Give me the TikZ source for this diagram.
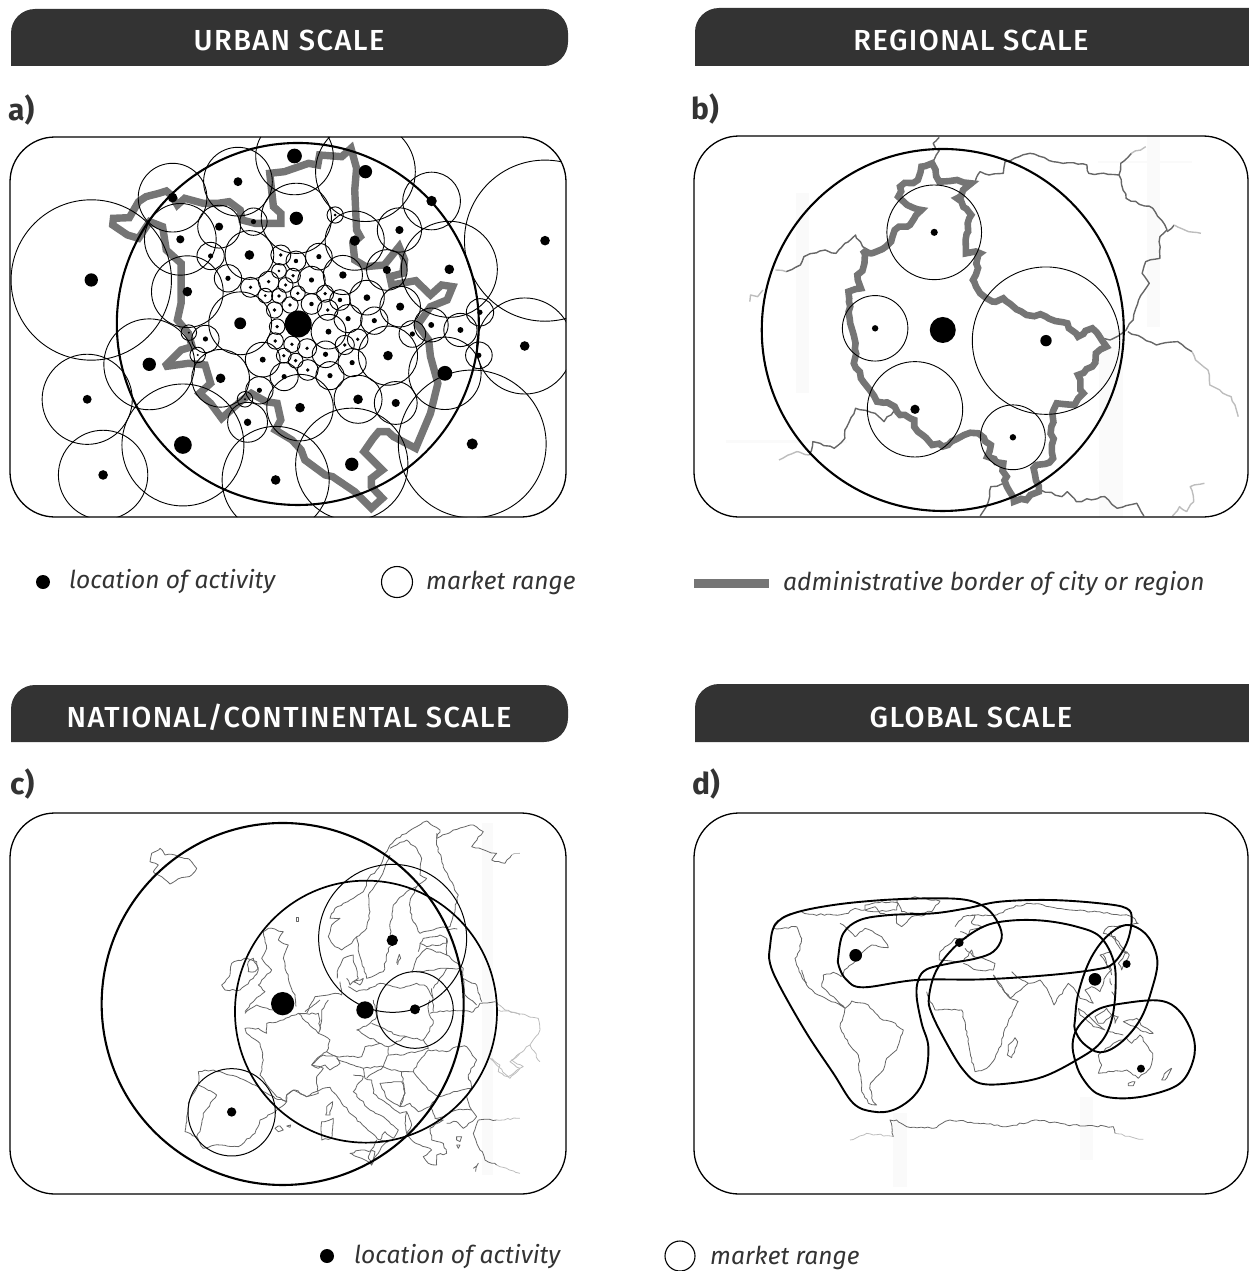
\documentclass[tikz,border=0pt]{standalone}
\usepackage{fontspec}
\setmainfont{Fira Sans}
\newfontfamily\hdfont[LetterSpace=5]{Fira Sans Medium}
\usetikzlibrary{decorations.pathmorphing}
\definecolor{hdr}{HTML}{333333}
\definecolor{bord}{HTML}{757575}
\definecolor{mapl}{HTML}{666666}
\definecolor{maplo}{HTML}{BDBDBD}
\definecolor{streak}{HTML}{FAFAFA}
\tikzset{
 hdrbox/.style={fill=hdr},
 hdrtext/.style={text=white,font=\hdfont\fontsize{29}{32}\selectfont,anchor=center},
 panellabel/.style={font=\bfseries\fontsize{30}{34}\selectfont,anchor=west,text=hdr},
 legtext/.style={font=\itshape\fontsize{24.6}{30}\selectfont,anchor=west,text=hdr},
 frame/.style={draw=black,line width=1.3pt},
 thin circle/.style={draw=black,line width=0.9pt},
 main circle/.style={draw=black,line width=2.1pt},
 bigborder/.style={draw=bord,line width=7.4pt,line join=miter,miter limit=3},
 jagborder/.style={draw=bord,line width=6.6pt,line join=miter,miter limit=3,decorate,decoration={random steps,segment length=6pt,amplitude=2.2pt}},
 regline/.style={draw=mapl,line width=1.4pt,line join=round,decorate,decoration={random steps,segment length=5pt,amplitude=1pt}},
 reglo/.style={draw=maplo,line width=1.4pt,line join=round,decorate,decoration={random steps,segment length=5pt,amplitude=1pt}},
 mapline/.style={draw=mapl,line width=0.8pt,line join=round,decorate,decoration={random steps,segment length=3.5pt,amplitude=0.9pt}},
 maplight/.style={draw=maplo,line width=0.8pt,line join=round,decorate,decoration={random steps,segment length=3.5pt,amplitude=0.9pt}},
 blob/.style={draw=black,line width=1.9pt},
}
\def\acircles{247/450/217/18,404/703/123/18,236/808/122/12,279/1035/121/13,495/945/165/24,746/1050/145/13,952/1003/152/18,1278/942/200/15,1420/648/130/13,1475/332/218/13,1216/418/130/13,1168/213/78/14,989/125/135/18,797/78/105/20,644/155/93/12,467/203/93/13,488/328/97/11,507/485/97/13,593/290/58/11,686/275/37/7,802/265/95/18,907/255/22/4,960/332/80/14,1081/300/60/11,570/378/37/7,675/375/66/13,760/375/27/5,863/380/36/7,801/393/27/6,928/435/53/10,1047/420/55/11,617/445/37/7,678/472/27/5,727/455/28/5,755/423/20/4,793/437/20/5,843/450/37/7,773/465/20/5,718/497/20/4,755/498/20/5,806/490/20/5,880/491/23/5,920/510/28/6,993/503/47/9,1083/530/55/11,785/525/22/5,843/522/28/6,743/540/22/5,887/540/28/5,942/566/38/7,1013/572/37/7,650/580/85/16,750/590/21/5,889/605/47/8,968/628/28/5,933/645/26/5,745/633/22/5,790/643/22/5,831/655/26/5,881/673/36/7,953/698/38/7,1050/677/80/13,711/689/47/8,768/677/20/5,800/692/20/5,833/720/28/5,769/740/38/7,893/737/38/7,597/745/78/13,702/781/37/7,812/833/90/13,969/808/65/13,1071/819/58/11,1204/730/98/20,1296/676/36/7,1299/547/37/7,1246/600/45/8,1167/585/46/8,1116/612/36/7,670/877/54/10,663/808/21/3,535/675/21/3,511/608/21/3,556/627/37/7}
\begin{document}
\begin{tikzpicture}[x=1pt,y=-1pt]
\useasboundingbox (0,0) rectangle (1248,1271);
\pgfmathsetseed{7}
% headers
\fill[hdrbox] (11,66) {[rounded corners=24pt] -- (11,9) -- (568,9) -- (568,66)} -- cycle;
\fill[hdrbox] (695,66) {[rounded corners=24pt] -- (695,8) -- (1310,8) -- (1310,66)} -- cycle;
\fill[hdrbox] (11,742) {[rounded corners=24pt] -- (11,685) -- (568,685) -- (568,742)} -- cycle;
\fill[hdrbox] (695,742) {[rounded corners=24pt] -- (695,684) -- (1310,684) -- (1310,742)} -- cycle;
\node[hdrtext] (ha) at (289,40) {URBAN SCALE};
\node[hdrtext] (hb) at (971,40) {REGIONAL SCALE};
\node[hdrtext] (hc) at (289,717) {NATIONAL/CONTINENTAL SCALE};
\node[hdrtext] (hd) at (971,717) {GLOBAL SCALE};
\node[panellabel,inner sep=0pt] (la) at (8,110) {a)};
\node[panellabel,inner sep=0pt] (lb) at (691,109) {b)};
\node[panellabel,inner sep=0pt] (lc) at (10,784) {c)};
\node[panellabel,inner sep=0pt] (ld) at (692,784) {d)};
% ---------- panel a
\begin{scope}
\clip[rounded corners=45pt] (10,137) rectangle (566,517);
\begin{scope}[x=0.3695pt,y=-0.3333pt,shift={(0pt,-130pt)}]
\draw[bigborder] (307,265) -- (350,263) -- (375,215) -- (395,200) -- (430,190) -- (450,183) -- (465,197) -- (480,225) -- (500,205) -- (550,220) -- (590,220) -- (620,215) -- (650,240) -- (655,270) -- (690,280) -- (760,280) -- (760,250) -- (740,230) -- (730,130) -- (770,125) -- (835,100) -- (860,105) -- (865,75) -- (925,80) -- (950,55) -- (965,115) -- (960,180) -- (965,300) -- (975,320) -- (955,340) -- (960,390) -- (990,410) -- (1040,405) -- (1080,350) -- (1095,390) -- (1090,430) -- (1055,440) -- (1060,465) -- (1125,452) -- (1165,495) -- (1195,465) -- (1225,470) -- (1210,510) -- (1165,530) -- (1130,585) -- (1160,630) -- (1165,680) -- (1185,760) -- (1165,850) -- (1125,955) -- (1065,920) -- (1050,905) -- (1025,905) -- (1010,925) -- (985,965) -- (1035,1020) -- (1005,1045) -- (1005,1070) -- (1035,1105) -- (1005,1135) -- (960,1085) -- (900,1040) -- (880,1035) -- (825,990) -- (815,960) -- (790,930) -- (745,900) -- (760,870) -- (750,820) -- (720,815) -- (680,790) -- (650,815) -- (600,865) -- (570,820) -- (540,790) -- (570,760) -- (555,705) -- (510,700) -- (445,710) -- (490,660) -- (520,650) -- (510,610) -- (480,570) -- (490,520) -- (490,400) -- (450,360) -- (440,290) -- (405,275) -- (375,325) -- (345,315) -- (305,285) -- cycle;
\foreach \x/\y/\r/\d in \acircles {\draw[thin circle] (\x,\y) circle[radius=\r*0.3695pt];}
\foreach \x/\y/\r/\d in \acircles {\fill (\x,\y) circle[radius=\d*0.3695pt];}
\fill (807,582) circle[radius=13.5pt];
\draw[main circle] (806,582) circle[radius=181pt];
\end{scope}
\end{scope}
\draw[frame,rounded corners=45pt] (10,137) rectangle (566,517);
% legend top
\fill (43,582) circle[radius=7pt];
\node[legtext,inner sep=0pt] (t1) at (69,582) {location of activity};
\draw[thin circle,line width=1.1pt] (397,582) circle[radius=15.5pt];
\node[legtext,inner sep=0pt] (t2) at (426,583) {market range};
\draw[draw=bord,line width=9pt] (694,583) -- (769,583);
\node[legtext,inner sep=0pt] (t3) at (783,584) {administrative border of city or region};
% ---------- panel b
\begin{scope}
\clip[rounded corners=45pt] (694,136) rectangle (1248,517);
\begin{scope}[x=0.356pt,y=-0.3333pt,shift={(690pt,-130pt)}]
\fill[streak] (298,190) rectangle (335,790);
\fill[streak] (1285,0) rectangle (1320,590);
\fill[streak] (1145,92) rectangle (1410,100);
\fill[streak] (100,930) rectangle (440,940);
\fill[streak] (1150,600) rectangle (1215,1200);
\draw[regline] (700,22) -- (683,40) -- (690,55) -- (700,62) -- (680,100);
\draw[regline] (800,160) -- (815,125) -- (840,135) -- (880,130) -- (885,95) -- (955,70) -- (1020,95) -- (1115,105) -- (1120,130) -- (1205,135) -- (1225,205) -- (1300,235) -- (1340,300) -- (1320,320) -- (1320,385) -- (1280,395) -- (1270,430) -- (1290,460) -- (1260,510) -- (1245,570) -- (1225,600) -- (1180,630) -- (1160,625);
\draw[regline] (1205,135) -- (1210,100) -- (1240,70);
\draw[reglo] (1240,70) -- (1280,50);
\draw[regline] (1340,305) -- (1360,285);
\draw[reglo] (1360,285) -- (1400,305) -- (1435,310);
\draw[regline] (1230,605) -- (1310,645) -- (1370,635) -- (1410,665);
\draw[reglo] (1410,665) -- (1420,690) -- (1455,720) -- (1460,765) -- (1520,800) -- (1540,860);
\draw[regline] (550,350) -- (510,365) -- (485,350) -- (465,315) -- (435,340) -- (410,370) -- (380,360) -- (320,380) -- (310,405) -- (270,425);
\draw[reglo] (270,425) -- (240,420);
\draw[reglo] (205,480) -- (190,500) -- (170,495) -- (168,515);
\draw[regline] (575,840) -- (545,875) -- (520,850) -- (465,835) -- (435,900) -- (435,925) -- (405,955) -- (345,935) -- (335,975);
\draw[reglo] (335,975) -- (300,965) -- (250,990);
\draw[regline] (890,1060) -- (845,1070) -- (838,1115) -- (815,1158);
\draw[regline] (985,1080) -- (1045,1100) -- (1060,1085) -- (1085,1115) -- (1165,1100) -- (1200,1135) -- (1255,1120) -- (1275,1158);
\draw[reglo] (1445,1060) -- (1405,1070) -- (1415,1115) -- (1395,1145) -- (1375,1130) -- (1355,1158);
\draw[jagborder] (680,100) -- (650,110) -- (640,150) -- (590,170) -- (585,200) -- (610,225) -- (650,240) -- (630,265) -- (610,290) -- (575,300) -- (565,335) -- (550,350) -- (510,370) -- (485,360) -- (490,400) -- (470,435) -- (480,475) -- (445,485) -- (450,530) -- (450,580) -- (465,640) -- (460,700) -- (480,745) -- (505,780) -- (525,815) -- (575,830) -- (590,855) -- (630,870) -- (640,905) -- (680,945) -- (725,945) -- (770,915) -- (810,910) -- (845,945) -- (835,980) -- (880,1000) -- (890,1070) -- (910,1115) -- (945,1110) -- (980,1085) -- (965,1015) -- (1020,985) -- (1015,890) -- (1030,820) -- (1080,825) -- (1105,790) -- (1090,735) -- (1130,710) -- (1140,670) -- (1170,650) -- (1130,595) -- (1090,620) -- (1060,580) -- (1000,560) -- (945,555) -- (880,505) -- (850,515) -- (815,490) -- (795,450) -- (815,370) -- (775,370) -- (780,280) -- (790,255) -- (750,205) -- (790,160) -- (750,150) -- (700,155) -- cycle;
\foreach \x/\y/\r/\d in {686/307/133/10,1000/632/207/16,520/595/92/9,632/838/134/13,907/922/91/9} {
  \draw[thin circle] (\x,\y) circle[radius=\r*0.356pt];
  \fill (\x,\y) circle[radius=\d*0.356pt];}
\fill (710,600) circle[radius=13pt];
\draw[main circle] (710,600) circle[radius=181pt];
\end{scope}
\end{scope}
\draw[frame,rounded corners=45pt] (694,136) rectangle (1248,517);
% ---------- panel c
\begin{scope}
\clip[rounded corners=45pt] (10,813) rectangle (566,1194);
\begin{scope}[x=0.3333pt,y=-0.3333pt,shift={(90pt,-810pt)}]
\fill[streak] (1175,40) rectangle (1210,1095);
\draw[mapline] (185,130) -- (210,115) -- (225,135) -- (255,135) -- (300,150) -- (320,175) -- (305,195) -- (260,210) -- (240,222) -- (205,195) -- (190,185) -- (205,165) -- (180,155) -- cycle;
\draw[maplight] (1225,600) -- (1280,610) -- (1345,625) -- (1350,660) -- (1320,705) -- (1265,750) -- (1300,770) -- (1255,800) -- (1225,770) -- (1200,745);
\draw[maplight] (1320,705) -- (1350,755);
\end{scope}
% north Europe
\begin{scope}[x=0.3333pt,y=-0.3333pt,shift={(220pt,-815pt)}]
\draw[mapline] (650,70) -- (660,45) -- (620,18) -- (590,35) -- (565,50) -- (530,70) -- (510,90) -- (490,130) -- (470,165) -- (445,190) -- (430,230) -- (400,250) -- (370,265) -- (345,280) -- (330,310) -- (360,310) -- (335,330) -- (325,365) -- (345,395) -- (365,405) -- (395,385) -- (410,365) -- (415,395) -- (425,440) -- (440,490) -- (490,470) -- (505,400) -- (515,390) -- (510,340) -- (520,270) -- (560,230) -- (590,215) -- (620,190) -- (600,180) -- (605,130) -- (590,100) -- (560,75) -- (530,90) -- (510,100);
\draw[mapline] (590,215) -- (570,260) -- (575,310) -- (600,355) -- (650,340) -- (690,335) -- (700,300) -- (715,240) -- (690,195) -- (670,150) -- (650,90) -- (650,55);
\draw[mapline] (510,120) -- (480,190) -- (445,240) -- (450,290) -- (440,340) -- (410,365);
\draw[mapline] (650,70) -- (700,45) -- (760,30) -- (790,50) -- (755,95) -- (805,110);
\draw[mapline] (805,110) -- (830,115) -- (815,135) -- (855,145) -- (875,120);
\draw[maplight] (875,120) -- (900,115);
\draw[mapline] (600,385) -- (610,370) -- (660,360) -- (680,370) -- (680,385) -- (620,395) -- (600,385) -- (595,410);
\draw[mapline] (680,345) -- (712,342);
\draw[mapline] (680,370) -- (680,420) -- (730,460) -- (725,490) -- (770,510) -- (785,560);
\draw[mapline] (575,470) -- (590,430) -- (620,400) -- (680,420);
\draw[mapline] (575,470) -- (610,470) -- (680,460) -- (720,460);
\draw[mapline] (445,520) -- (480,505) -- (540,520) -- (590,505) -- (620,515) -- (640,550);
\draw[mapline] (635,520) -- (640,590);
\draw[mapline] (640,520) -- (680,460);
\draw[mapline] (730,490) -- (735,540) -- (770,570);
\draw[mapline] (352,490) -- (355,460) -- (370,430) -- (400,420) -- (405,450) -- (415,490) -- (390,510) -- (380,490);
\draw[mapline] (400,500) -- (430,490) -- (420,510) -- cycle;
\draw[mapline] (360,500) -- (365,540) -- (345,535) -- (285,545) -- (260,595);
\draw[mapline] (385,515) -- (410,530) -- (440,525) -- (450,520);
\draw[mapline] (530,445) -- (538,418) -- (542,430) -- (535,445) -- cycle;
\draw[mapline] (229,306) -- (236,306) -- (236,318) -- (229,318) -- cycle;
\draw[mapline] (130,350) -- (145,340) -- (190,350) -- (175,375) -- (205,390) -- (190,430) -- (205,490) -- (225,545) -- (228,575);
\draw[mapline] (130,350) -- (140,400) -- (125,430) -- (155,465) -- (115,510) -- (135,530) -- (100,560) -- (75,590);
\draw[mapline] (5,510) -- (30,480) -- (35,445) -- (80,430) -- (110,440) -- (115,465) -- (100,490) -- (60,525) -- (15,525) -- cycle;
\draw[mapline] (85,440) -- (100,430) -- (115,460) -- (105,470) -- (85,470) -- cycle;
\end{scope}
% south Europe
\begin{scope}[x=0.3333pt,y=-0.3333pt,shift={(180pt,-1000pt)}]
\draw[mapline] (195,40) -- (230,15) -- (280,30);
\draw[mapline] (195,85) -- (200,100) -- (240,130) -- (250,180) -- (240,225) -- (290,290) -- (320,305) -- (320,285) -- (340,270) -- (380,290) -- (415,280) -- (410,230) -- (430,205) -- (395,195) -- (425,165) -- (440,155) -- (450,120) -- (415,100) -- (355,40) -- (310,60) -- (260,70) -- (260,100) -- (235,85) -- cycle;
\draw[mapline] (355,40) -- (415,40) -- (420,90) -- (415,100);
\draw[mapline] (375,35) -- (420,0);
\draw[mapline] (420,90) -- (425,30) -- (445,0);
\draw[mapline] (440,155) -- (470,170) -- (510,170) -- (545,170) -- (555,140) -- (600,130) -- (530,90) -- (570,70) -- (590,50) -- (580,0);
\draw[mapline] (395,195) -- (430,165) -- (470,170) -- (480,190) -- (450,210) -- (435,195) -- (415,205) -- cycle;
\draw[mapline] (470,175) -- (490,185) -- (550,205) -- (610,200) -- (625,165) -- (625,140) -- (600,130);
\draw[mapline] (575,70) -- (650,105) -- (680,110) -- (625,140);
\draw[mapline] (680,110) -- (730,120) -- (745,145) -- (670,165) -- (625,165);
\draw[mapline] (730,120) -- (760,70) -- (745,30) -- (750,0);
\draw[mapline] (745,150) -- (720,180) -- (700,215) -- (665,215) -- (620,205) -- (610,200);
\draw[mapline] (745,150) -- (800,155) -- (830,140) -- (860,140) -- (890,180) -- (865,225) -- (875,265) -- (820,275) -- (780,290) -- (745,270) -- (700,215);
\draw[mapline] (750,40) -- (800,32) -- (880,35) -- (900,10) -- (945,5);
\draw[maplight] (945,5) -- (975,30) -- (1020,45);
\draw[mapline] (780,285) -- (750,320) -- (765,355) -- (790,350) -- (830,330) -- (875,330) -- (860,290) -- (875,265);
\draw[mapline] (875,330) -- (890,350) -- (850,385) -- (830,365) -- (800,370);
\draw[mapline] (895,360) -- (950,360);
\draw[maplight] (950,360) -- (1020,355);
\draw[mapline] (895,360) -- (880,400) -- (915,480) -- (950,495);
\draw[maplight] (950,495) -- (1020,520);
\draw[mapline] (680,400) -- (700,425) -- (750,445) -- (755,450) -- (730,470) -- (745,490) -- (770,495) -- (770,465) -- (800,460) -- (790,430) -- (755,420) -- (750,385) -- (790,360) -- (765,355);
\draw[mapline] (680,335) -- (695,375) -- (680,400) -- (675,370) -- cycle;
\draw[mapline] (665,215) -- (675,280) -- (660,320) -- (690,310) -- (715,335) -- (750,320);
\draw[mapline] (600,250) -- (665,245) -- (675,280) -- (660,320) -- (620,295) -- cycle;
\draw[mapline] (550,205) -- (555,235) -- (575,240) -- (580,280) -- (620,310) -- (660,340) -- (680,335);
\draw[mapline] (610,200) -- (560,235);
\draw[mapline] (320,305) -- (320,285) -- (345,270) -- (380,290) -- (420,270) -- (450,262) -- (480,300) -- (510,340) -- (570,395) -- (600,420) -- (625,425) -- (605,440) -- (590,465) -- (575,495) -- (565,470) -- (590,420);
\draw[mapline] (520,225) -- (550,230) -- (520,275) -- (570,330) -- (610,350) -- (655,390) -- (640,415) -- (615,395) -- (600,420);
\draw[mapline] (510,460) -- (545,450) -- (585,455) -- (575,495) -- (545,475) -- cycle;
\draw[mapline] (425,365) -- (460,355) -- (455,415) -- (425,420) -- cycle;
\draw[mapline] (440,320) -- (458,305) -- (450,345) -- (437,345) -- cycle;
\draw[mapline] (55,215) -- (100,210) -- (180,235) -- (225,255) -- (285,295) -- (320,305) -- (285,335) -- (240,360) -- (225,400) -- (175,440) -- (105,435) -- (70,445) -- (50,410) -- (15,395) -- (20,350) -- (25,310) -- (55,250) -- cycle;
\draw[mapline] (55,255) -- (110,285) -- (70,340) -- (60,395) -- (50,410);
\draw[mapline] (285,385) -- (300,378) -- (310,390) -- (295,395) -- cycle;
\draw[mapline] (320,378) -- (332,375) -- (330,382) -- cycle;
\draw[mapline] (830,410) -- (845,410) -- (840,425) -- (830,420) -- cycle;
\draw[mapline] (830,435) -- (840,435) -- (835,445) -- cycle;
\draw[mapline] (880,505) -- (895,490) -- (890,505) -- cycle;
\draw[maplight] (935,175) -- (960,195) -- (955,215) -- (990,235) -- (1020,205) -- (990,185) -- (1020,160);
\end{scope}
\begin{scope}[x=0.3333pt,y=-0.3333pt,shift={(90pt,-810pt)}]
\draw[main circle] (578,582) circle[radius=181pt];
\draw[main circle,line width=1.7pt] (828,605) circle[radius=131pt];
\foreach \x/\y/\r in {908/385/222,975/600/115,425/907/131} {\draw[thin circle,line width=1pt] (\x,\y) circle[radius=\r*0.3333pt];}
\foreach \x/\y/\d in {578/581/35,825/600/26,907/391/17,975/598/15,425/906/14} {\fill (\x,\y) circle[radius=\d*0.3333pt];}
\end{scope}
\end{scope}
\draw[frame,rounded corners=45pt] (10,813) rectangle (566,1194);
% ---------- panel d
\begin{scope}
\clip[rounded corners=45pt] (694,813) rectangle (1248,1194);
\begin{scope}[x=0.3333pt,y=-0.3333pt,shift={(750pt,-880pt)}]
\fill[streak] (430,700) rectangle (470,920);
\fill[streak] (990,650) rectangle (1030,840);
\draw[maplight] (300,780) -- (350,760) -- (430,770);
\draw[mapline] (430,770) -- (420,720) -- (440,720) -- (470,740) -- (550,745) -- (600,720) -- (700,730) -- (770,740) -- (860,720) -- (950,735) -- (1090,740) -- (1095,760);
\draw[maplight] (1095,760) -- (1180,778);
\end{scope}
% Americas
\begin{scope}[x=0.3333pt,y=-0.3333pt,shift={(765pt,-895pt)}]
\draw[mapline] (25,100) -- (60,98) -- (95,95) -- (110,130) -- (105,165) -- (90,190) -- (110,245) -- (125,270) -- (150,295) -- (190,315) -- (225,330) -- (240,340) -- (215,315) -- (195,300) -- (170,275) -- (175,240) -- (205,232) -- (228,245) -- (238,225) -- (265,205) -- (300,165) -- (320,150) -- (370,158) -- (350,125) -- (330,115) -- (300,100) -- (270,125) -- (250,105) -- (225,85);
\draw[mapline] (25,95) -- (30,85) -- (55,65) -- (100,50) -- (135,58) -- (205,60) -- (250,55) -- (270,40) -- (300,45) -- (330,35) -- (345,55) -- (395,60) -- (395,85) -- (410,95) -- (440,65) -- (480,60);
\draw[mapline] (300,30) -- (350,20) -- (400,25) -- (395,45) -- (340,50) -- (300,45) -- cycle;
\draw[mapline] (395,15) -- (450,5) -- (525,18) -- (500,50) -- (450,55) -- (410,50) -- cycle;
\draw[mapline] (110,225) -- (125,265);
\draw[mapline] (240,340) -- (260,318) -- (310,330) -- (345,370) -- (380,380) -- (415,405) -- (395,465) -- (365,490) -- (355,525) -- (315,570) -- (320,610) -- (335,630) -- (310,625) -- (290,590) -- (280,480) -- (250,445) -- (225,395) -- cycle;
\end{scope}
% Old world
\begin{scope}[x=0.3333pt,y=-0.3333pt,shift={(930pt,-895pt)}]
\draw[mapline] (75,95) -- (100,65) -- (135,60) -- (125,85) -- (155,95) -- (120,105) -- (115,120) -- (90,110);
\draw[mapline] (28,195) -- (30,170) -- (55,150) -- (75,130) -- (110,130);
\draw[mapline] (125,60) -- (200,60) -- (240,40) -- (290,25) -- (340,30) -- (420,45) -- (500,50) -- (580,60) -- (605,65) -- (625,85) -- (590,90) -- (535,95) -- (520,115) -- (555,125) -- (590,175) -- (570,160) -- (540,110);
\draw[mapline] (520,180) -- (545,240);
\draw[mapline] (28,195) -- (100,200) -- (125,165) -- (130,185) -- (160,190) -- (195,205) -- (190,225) -- (140,225) -- (100,205);
\draw[mapline] (105,160) -- (135,185);
\draw[mapline] (-10,290) -- (0,320) -- (15,345) -- (65,345) -- (95,345) -- (105,380) -- (120,470) -- (135,530) -- (170,520) -- (195,490) -- (215,445) -- (225,400) -- (265,320) -- (235,305) -- (190,240);
\draw[mapline] (190,240) -- (240,310) -- (295,265) -- (260,245) -- (245,230);
\draw[mapline] (295,265) -- (330,255) -- (355,290) -- (372,330) -- (415,265) -- (435,285) -- (450,310) -- (490,325) -- (465,285) -- (485,275) -- (510,290) -- (530,240) -- (545,225) -- (510,180) -- (545,170);
\draw[mapline] (565,205) -- (590,170) -- (598,180) -- (575,225) -- cycle;
\draw[mapline] (540,250) -- (545,270);
\draw[mapline] (545,290) -- (555,310);
\draw[mapline] (445,340) -- (525,405) -- (490,395) -- (450,360) -- cycle;
\draw[mapline] (495,365) -- (530,340) -- (545,360) -- (520,385) -- (505,385) -- cycle;
\draw[mapline] (550,360) -- (565,365) -- (555,385) -- cycle;
\draw[mapline] (580,380) -- (620,370) -- (640,395) -- (670,415) -- (640,410) -- (590,385) -- cycle;
\draw[mapline] (535,410) -- (580,420);
\draw[mapline] (505,480) -- (550,445) -- (590,430) -- (605,445) -- (630,420) -- (668,475) -- (660,520) -- (625,550) -- (590,525) -- (505,535) -- (515,510) -- cycle;
\draw[mapline] (595,565) -- (615,560) -- (610,572) -- (595,572) -- cycle;
\draw[mapline] (695,555) -- (710,530) -- (725,520) -- (720,530) -- (705,555) -- cycle;
\draw[mapline] (255,428) -- (263,440) -- (245,488) -- (232,480) -- (235,450) -- cycle;
\end{scope}
\begin{scope}[x=0.3333pt,y=-0.3333pt,shift={(750pt,-880pt)}]
\draw[blob] plot[smooth cycle,tension=0.6] coordinates {(60,200) (75,135) (130,100) (250,75) (400,60) (550,55) (650,60) (710,85) (745,130) (755,175) (730,215) (680,235) (600,250) (530,268) (505,300) (500,350) (515,430) (535,500) (525,590) (490,650) (430,690) (370,695) (310,670) (250,580) (170,460) (90,320) (60,250)};
\draw[blob] plot[smooth cycle,tension=0.6] coordinates {(265,230) (280,160) (330,120) (420,105) (550,100) (650,85) (750,65) (900,60) (1050,70) (1130,85) (1145,120) (1130,190) (1090,250) (1040,268) (900,285) (700,298) (500,300) (340,322) (290,300) (267,260)};
\draw[blob] plot[smooth cycle,tension=0.6] coordinates {(537,350) (560,270) (620,195) (700,140) (780,122) (880,122) (980,140) (1050,170) (1090,240) (1097,320) (1085,420) (1050,490) (980,540) (880,590) (780,610) (690,610) (640,570) (590,490) (545,400)};
\draw[blob] plot[smooth cycle,tension=0.6] coordinates {(975,420) (985,340) (1020,240) (1070,170) (1130,135) (1190,165) (1222,240) (1205,330) (1170,420) (1110,490) (1050,517) (1000,490) (975,450)};
\draw[blob] plot[smooth cycle,tension=0.6] coordinates {(968,490) (985,440) (1040,390) (1120,370) (1230,362) (1290,395) (1330,470) (1330,540) (1290,610) (1200,645) (1110,655) (1040,640) (995,590) (975,540)};
\foreach \x/\y/\d in {317/226/19,628/188/13,1035/298/19,1130/252/12,1173/566/12} {\fill (\x,\y) circle[radius=\d*0.3333pt];}
\end{scope}
\end{scope}
\draw[frame,rounded corners=45pt] (694,813) rectangle (1248,1194);
% legend bottom
\fill (327,1256) circle[radius=7pt];
\node[legtext,inner sep=0pt] (t4) at (354,1257) {location of activity};
\draw[thin circle,line width=1.1pt] (680,1256) circle[radius=15pt];
\node[legtext,inner sep=0pt] (t5) at (710,1258) {market range};
\end{tikzpicture}
\end{document}
